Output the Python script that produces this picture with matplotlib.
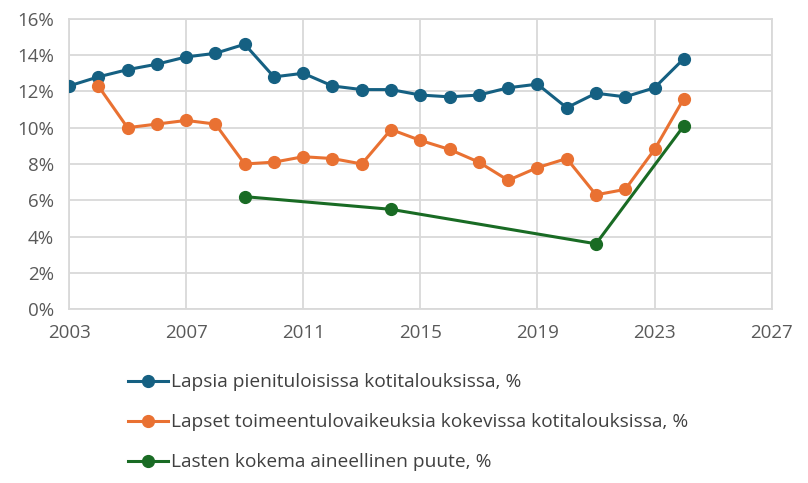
import matplotlib.pyplot as plt
from matplotlib.ticker import FuncFormatter

plt.rcParams['font.family'] = ['Open Sans', 'DejaVu Sans']

years_blue = list(range(2003, 2025))
blue = [12.3, 12.8, 13.2, 13.5, 13.9, 14.1, 14.6, 12.8, 13.0, 12.3, 12.1,
        12.1, 11.8, 11.7, 11.8, 12.2, 12.4, 11.1, 11.9, 11.7, 12.2, 13.8]

years_orange = list(range(2004, 2025))
orange = [12.3, 10.0, 10.2, 10.4, 10.2, 8.0, 8.1, 8.4, 8.3, 8.0, 9.9,
          9.3, 8.8, 8.1, 7.1, 7.8, 8.3, 6.3, 6.6, 8.8, 11.6]

years_green = [2009, 2014, 2021, 2024]
green = [6.2, 5.5, 3.6, 10.1]

labels = ['Lapsia pienituloisissa kotitalouksissa, %',
          'Lapset toimeentulovaikeuksia kokevissa kotitalouksissa, %',
          'Lasten kokema aineellinen puute, %']
colors = ['#156082', '#E97132', '#196B24']

fig = plt.figure(figsize=(8.08, 4.83), dpi=100)
ax = fig.add_axes([0.0854, 0.360, 0.955 - 0.0854, 0.961 - 0.360])

for x, y, c, lab in zip([years_blue, years_orange, years_green],
                        [blue, orange, green], colors, labels):
    ax.plot(x, y, color=c, lw=2.2, marker='o', ms=8.5, label=lab, zorder=3)

ax.set_xlim(2003, 2027)
ax.set_ylim(0, 16)
ax.set_xticks(range(2003, 2028, 4))
ax.set_yticks(range(0, 17, 2))
ax.yaxis.set_major_formatter(FuncFormatter(lambda v, p: f'{int(v)}%'))
ax.grid(True, color='#D9D9D9', lw=1.3)
ax.set_axisbelow(True)
for s in ax.spines.values():
    s.set_color('#D9D9D9')
    s.set_linewidth(1.3)
ax.tick_params(length=0, labelsize=13.5, colors='#595959')
ax.tick_params(axis='x', pad=11)
ax.tick_params(axis='y', pad=11)

fig.legend(loc='upper left', bbox_to_anchor=(0.158, 0.227), frameon=False,
           fontsize=13.8, labelcolor='#404040', labelspacing=1.15,
           handlelength=2.1, handletextpad=0.15, borderaxespad=0,
           borderpad=0)

plt.savefig('out.png', dpi=100)
